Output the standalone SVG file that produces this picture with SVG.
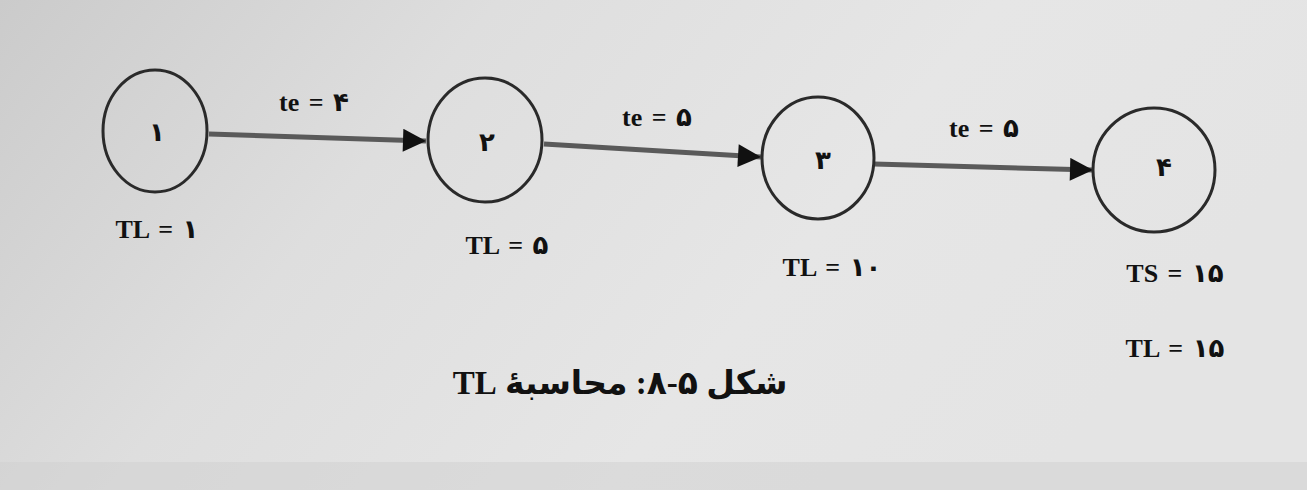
<svg xmlns="http://www.w3.org/2000/svg" width="1307" height="490" viewBox="0 0 1307 490">
<defs>
<linearGradient id="bg" x1="0" y1="0" x2="1" y2="0.3">
<stop offset="0" stop-color="#cbcbcb"/>
<stop offset="0.35" stop-color="#dedede"/>
<stop offset="0.7" stop-color="#e6e6e6"/>
<stop offset="1" stop-color="#e4e4e4"/>
</linearGradient>
<marker id="ah" viewBox="0 0 10 10" refX="10" refY="5" markerWidth="5" markerHeight="4.6" markerUnits="strokeWidth" orient="auto">
<path d="M0,0 L10,5 L0,10 z" fill="#111"/>
</marker>
<style>
.node{fill:none;stroke:#2a2a2a;stroke-width:3}
.edge{stroke:#5a5a5a;stroke-width:5;fill:none;marker-end:url(#ah)}
.t{font-family:"Liberation Serif","DejaVu Serif","DejaVu Sans",serif;font-weight:bold;fill:#111;text-anchor:middle}
.lbl{font-size:26px;word-spacing:3px}
.num{font-size:26px}
.cap{font-family:"Liberation Serif","DejaVu Sans",serif;font-weight:bold;font-size:33px;fill:#111;text-anchor:middle}
</style>
</defs>
<rect width="1307" height="490" fill="url(#bg)"/>
<rect y="462" width="1307" height="28" fill="#cfcfcf" opacity="0.5"/>
<g id="connectors">
<line class="edge" x1="209" y1="134" x2="426" y2="141"/>
<line class="edge" x1="544" y1="144" x2="761" y2="157"/>
<line class="edge" x1="874" y1="164" x2="1093" y2="170"/>
<text class="t lbl" x="314" y="111">te = ۴</text>
<text class="t lbl" x="657" y="126">te = ۵</text>
<text class="t lbl" x="984" y="137">te = ۵</text>
</g>
<g id="node1">
<ellipse class="node" cx="155" cy="131" rx="52" ry="61"/>
<text class="t num" x="157" y="141">۱</text>
<text class="t lbl" x="157" y="238">TL = ۱</text>
</g>
<g id="node2">
<ellipse class="node" cx="485" cy="140" rx="57" ry="62"/>
<text class="t num" x="487" y="151">۲</text>
<text class="t lbl" x="507" y="254">TL = ۵</text>
</g>
<g id="node3">
<ellipse class="node" cx="818" cy="158" rx="56" ry="61"/>
<text class="t num" x="823" y="169">۳</text>
<text class="t lbl" x="832" y="276">TL = ۱۰</text>
</g>
<g id="node4">
<ellipse class="node" cx="1154" cy="170" rx="61" ry="62"/>
<text class="t num" x="1164" y="176">۴</text>
<text class="t lbl" x="1175" y="282">TS = ۱۵</text>
<text class="t lbl" x="1175" y="357">TL = ۱۵</text>
</g>
<text class="cap" x="620" y="394" direction="rtl">شکل ۵-۸: محاسبهٔ TL</text>
</svg>
